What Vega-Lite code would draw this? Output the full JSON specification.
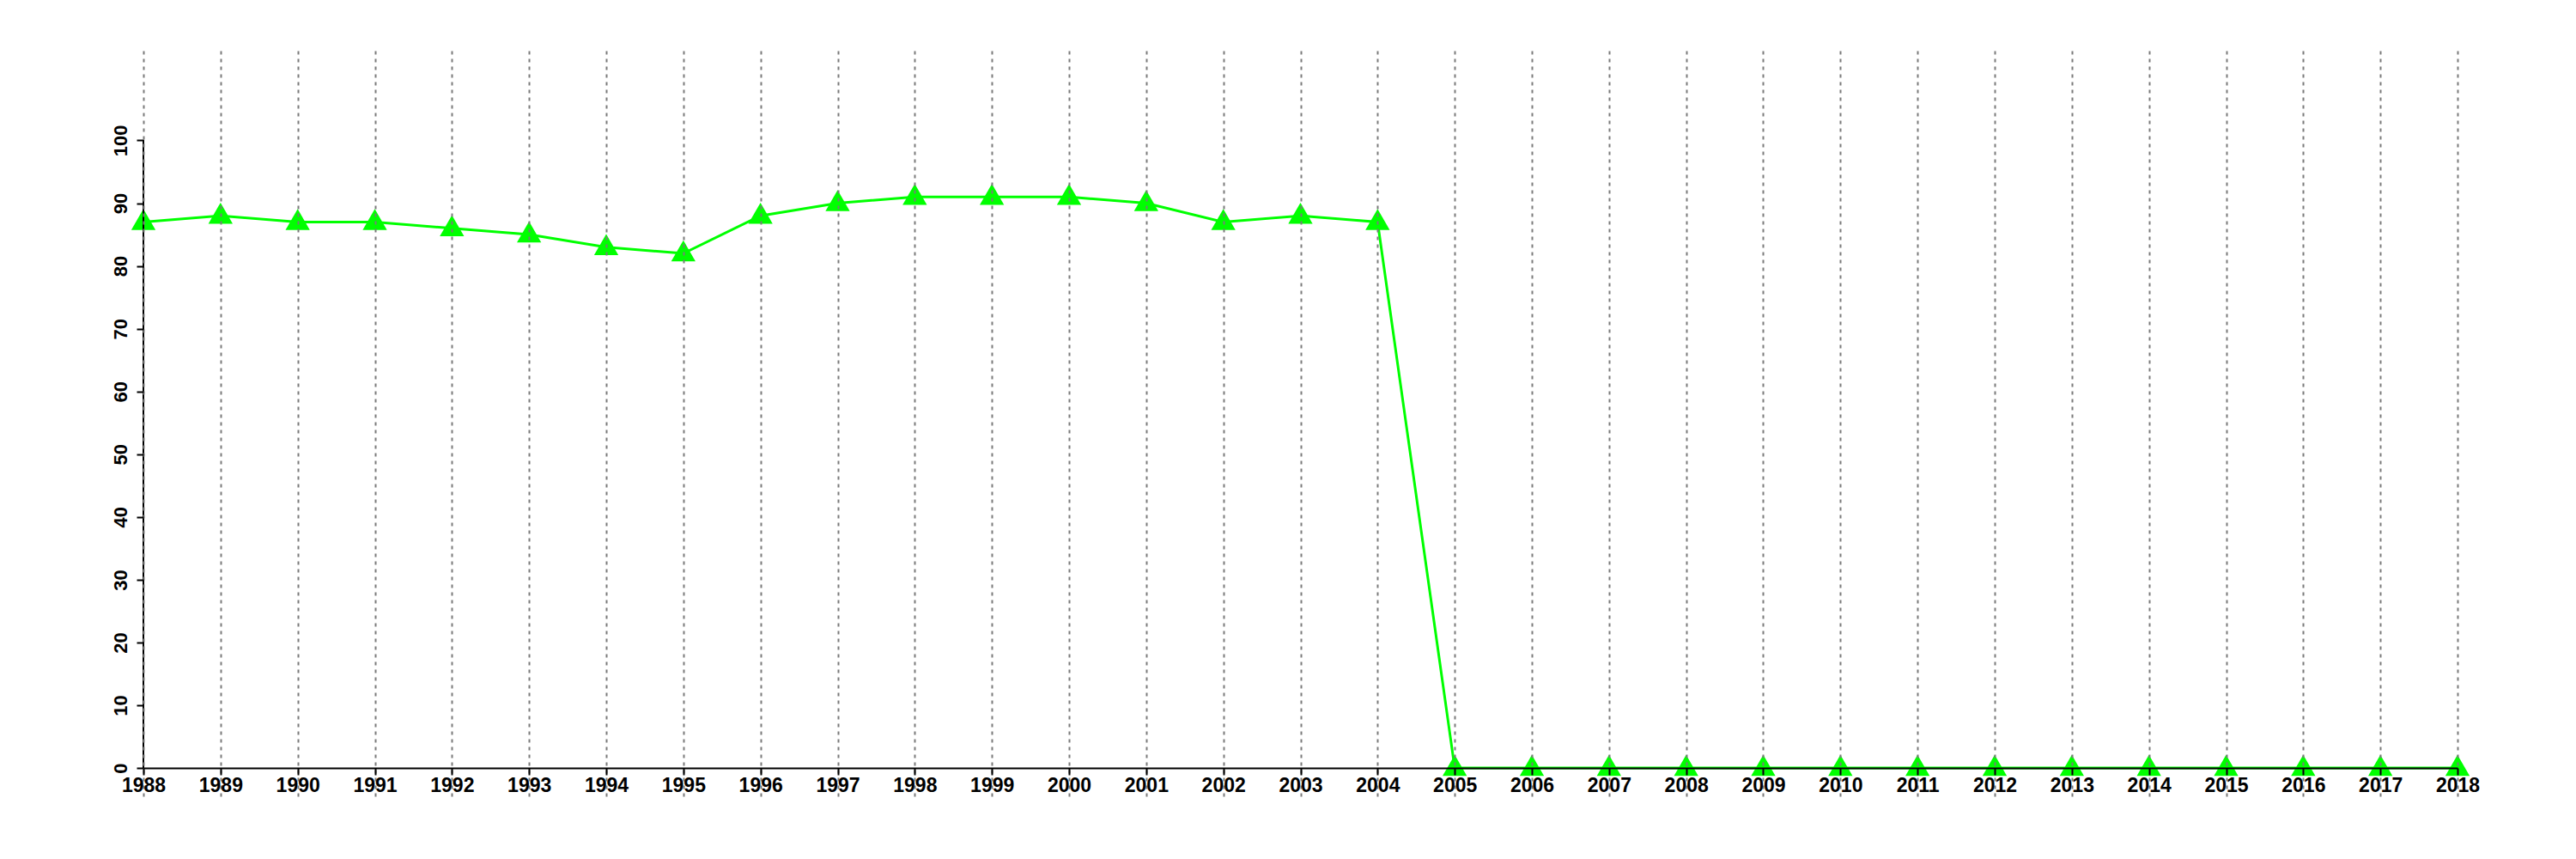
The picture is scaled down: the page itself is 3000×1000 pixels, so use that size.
{
  "$schema": "https://vega.github.io/schema/vega-lite/v6.json",
  "width": 2695,
  "height": 868,
  "autosize": {"type": "none"},
  "padding": {"left": 167, "top": 59, "right": 138, "bottom": 73},
  "background": "white",
  "config": {"view": {"stroke": null}},
  "data": {"values": [
    {"year": 1988, "value": 87}, {"year": 1989, "value": 88}, {"year": 1990, "value": 87},
    {"year": 1991, "value": 87}, {"year": 1992, "value": 86}, {"year": 1993, "value": 85},
    {"year": 1994, "value": 83}, {"year": 1995, "value": 82}, {"year": 1996, "value": 88},
    {"year": 1997, "value": 90}, {"year": 1998, "value": 91}, {"year": 1999, "value": 91},
    {"year": 2000, "value": 91}, {"year": 2001, "value": 90}, {"year": 2002, "value": 87},
    {"year": 2003, "value": 88}, {"year": 2004, "value": 87}, {"year": 2005, "value": 0},
    {"year": 2006, "value": 0}, {"year": 2007, "value": 0}, {"year": 2008, "value": 0},
    {"year": 2009, "value": 0}, {"year": 2010, "value": 0}, {"year": 2011, "value": 0},
    {"year": 2012, "value": 0}, {"year": 2013, "value": 0}, {"year": 2014, "value": 0},
    {"year": 2015, "value": 0}, {"year": 2016, "value": 0}, {"year": 2017, "value": 0},
    {"year": 2018, "value": 0}
  ]},
  "encoding": {
    "x": {
      "field": "year", "type": "quantitative",
      "scale": {"domain": [1988, 2018], "nice": false, "zero": false},
      "axis": {
        "title": null, "values": [1988,1989,1990,1991,1992,1993,1994,1995,1996,1997,1998,1999,2000,2001,2002,2003,2004,2005,2006,2007,2008,2009,2010,2011,2012,2013,2014,2015,2016,2017,2018],
        "format": "d", "offset": -33, "zindex": 1,
        "domainColor": "black", "domainWidth": 2,
        "tickColor": "black", "tickWidth": 2, "tickSize": 8,
        "labelFont": "Liberation Sans", "labelFontSize": 23, "labelFontWeight": "bold",
        "labelColor": "black", "labelPadding": 1, "labelFlush": false, "labelOverlap": false,
        "grid": true, "gridColor": "#7a7a7a", "gridWidth": 2, "gridDash": [4, 5], "gridOpacity": 1
      }
    },
    "y": {
      "field": "value", "type": "quantitative",
      "scale": {"domain": [-4.5, 114.3], "nice": false, "zero": false},
      "axis": {
        "title": null, "values": [0,10,20,30,40,50,60,70,80,90,100],
        "domain": false, "grid": false, "zindex": 1,
        "tickColor": "black", "tickWidth": 2, "tickSize": 8,
        "labelFont": "Liberation Sans", "labelFontSize": 22, "labelFontWeight": "bold",
        "labelColor": "black", "labelAngle": -90, "labelAlign": "center", "labelBaseline": "bottom",
        "labelPadding": 7, "labelFlush": false, "labelOverlap": false
      }
    }
  },
  "layer": [
    {"mark": {"type": "line", "color": "#00ff00", "strokeWidth": 3}},
    {"mark": {"type": "point", "shape": "triangle-up", "size": 800, "filled": true, "color": "#00ff00", "opacity": 1, "yOffset": -3}},
    {"mark": {"type": "rule", "color": "black", "strokeWidth": 2},
     "encoding": {"x": {"datum": 1988}, "y": {"datum": 0}, "y2": {"datum": 100}}}
  ]
}
